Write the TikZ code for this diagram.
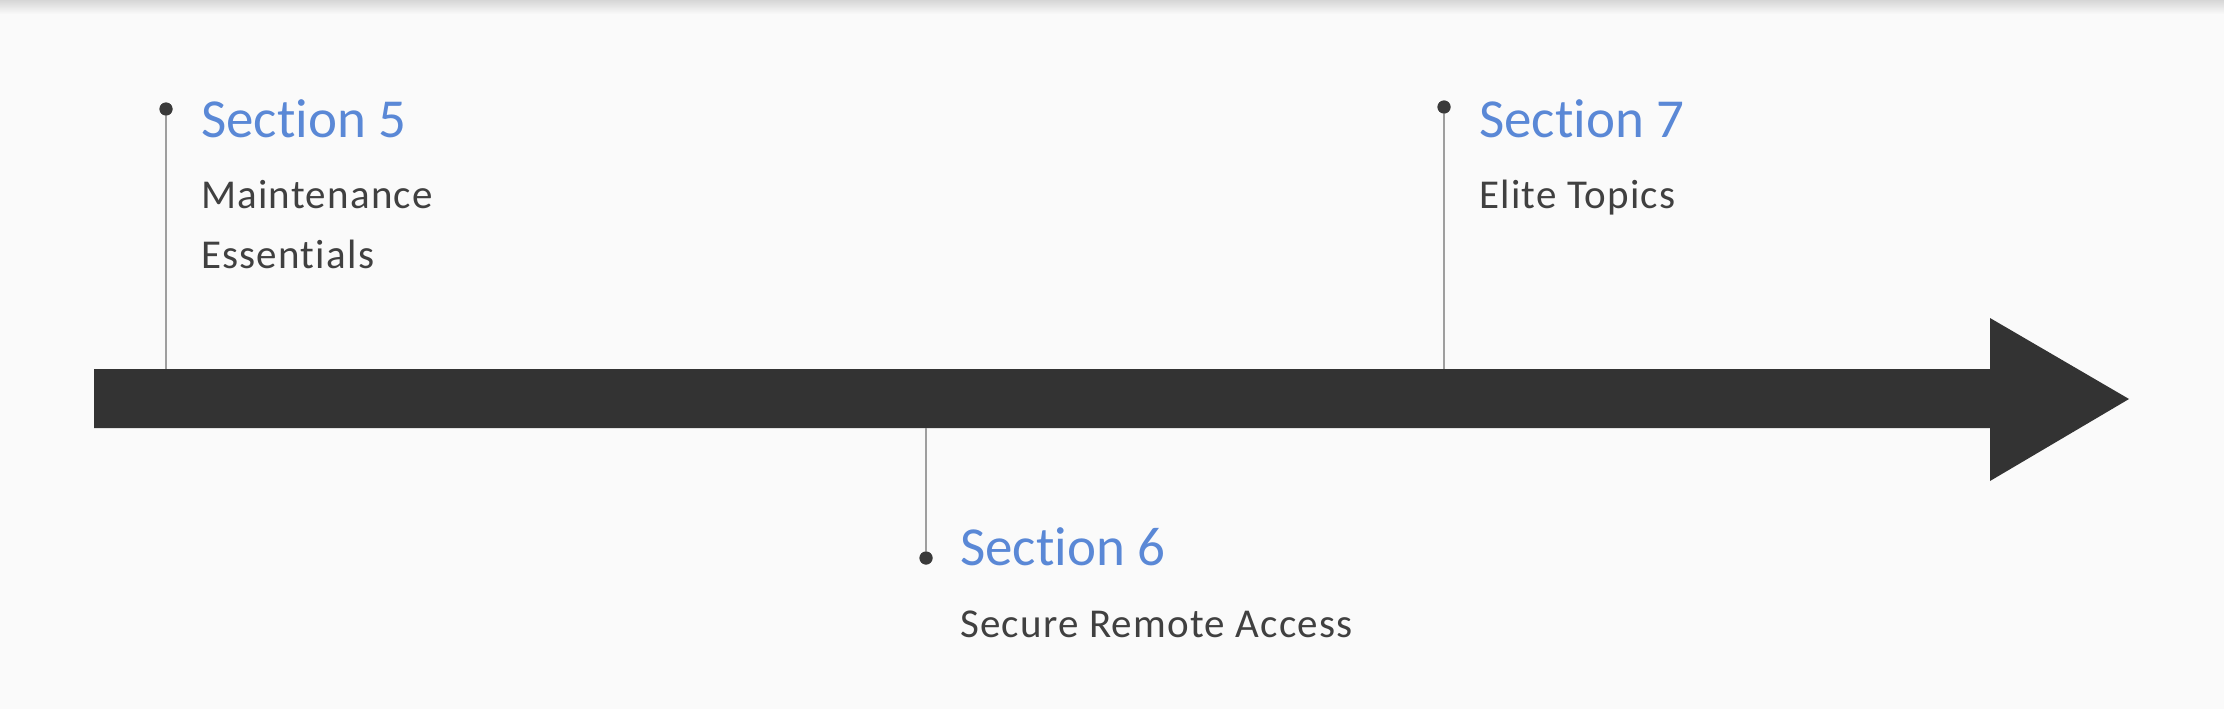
\documentclass[tikz,border=0pt]{standalone}
\usepackage{fontspec}
\setmainfont{Carlito}[Ligatures=NoCommon]
\usetikzlibrary{calc}
\definecolor{bgc}{HTML}{FAFAFA}
\definecolor{shadowc}{HTML}{D6D6D6}
\definecolor{arrowc}{HTML}{333333}
\definecolor{headc}{RGB}{90,136,214}
\definecolor{descc}{HTML}{404040}
\definecolor{stemc}{HTML}{9E9E9E}
\definecolor{dotc}{HTML}{3A3A3A}
\tikzset{
  head/.style={anchor=base west, inner sep=0pt, text=headc, font=\fontsize{55}{60}\selectfont},
  desc/.style={anchor=base west, inner sep=0pt, text=descc, align=left, font=\fontsize{41}{60}\selectfont\addfontfeatures{LetterSpace=3}},
  dotnode/.style={circle, fill=dotc, inner sep=0pt, minimum size=13pt},
  stem/.style={draw=stemc, line width=2pt},
}
\begin{document}
\begin{tikzpicture}[x=1pt,y=-1pt]
\useasboundingbox (0,0) rectangle (2224,709);
\fill[bgc] (0,0) rectangle (2224,709);
\shade[top color=shadowc, bottom color=bgc] (0,0) rectangle (2224,14);
% arrow
\fill[arrowc] (94,369) -- (1990,369) -- (1990,318) -- (2129,399) -- (1990,481) -- (1990,428) -- (94,428) -- cycle;
% stems
\coordinate (s5) at (166,369);
\coordinate (s7) at (1444,369);
\coordinate (s6) at (926,428);
\node[dotnode] (d5) at (166,109) {};
\node[dotnode] (d7) at (1444,107) {};
\node[dotnode] (d6) at (926,558) {};
\draw[stem] (d5.center) -- (s5);
\draw[stem] (d7.center) -- (s7);
\draw[stem] (d6.center) -- (s6);
\node[dotnode] at (d5) {};
\node[dotnode] at (d7) {};
\node[dotnode] at (d6) {};
% texts
\node[head] (h5) at (201,137) {Section 5};
\node[desc] (t5) at (201,268) {Maintenance\\Essentials};
\node[head] (h7) at (1479,137) {Section 7};
\node[desc] (t7) at (1479,208) {Elite Topics};
\node[head] (h6) at (960,565) {Section 6};
\node[desc] (t6) at (960,637) {Secure Remote Access};
\end{tikzpicture}
\end{document}
